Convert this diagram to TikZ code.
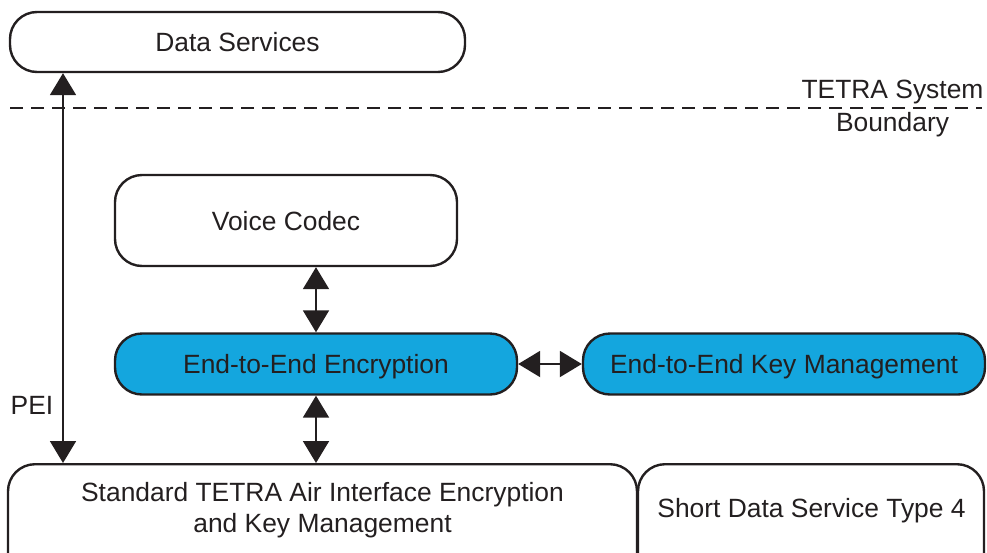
\documentclass[tikz,border=0pt]{standalone}
\usepackage{fontspec}
\setmainfont{Liberation Sans}
\usetikzlibrary{arrows.meta}
\definecolor{ink}{HTML}{231F20}
\definecolor{e2eblue}{RGB}{20,166,222}

\begin{document}
\begin{tikzpicture}[x=1pt, y=-1pt, font=\fontsize{26.4}{33}\selectfont, text=ink,
  box/.style={draw=ink, line width=2.4pt, rounded corners=27pt, fill=white, text height=19pt, text depth=0pt},
  e2ebox/.style={box, fill=e2eblue, minimum width=402pt, minimum height=61pt},
  dbl/.style={{Triangle[length=22pt,width=26pt]}-{Triangle[length=22pt,width=26pt]}, line width=2pt, draw=ink}]
\useasboundingbox (0,0) rectangle (987,552);
\clip (0,0) rectangle (987,552);
\node[box, minimum width=455pt, minimum height=60pt] (ds) at (237.5,42) {Data Services};
\node[box, minimum width=342pt, minimum height=91pt] (vc) at (286,220.5) {Voice Codec};
\node[e2ebox] (e2e) at (316,364) {End-to-End Encryption};
\node[e2ebox] (kms) at (784,364) {End-to-End Key Management};
\node[box, minimum width=629pt, minimum height=150pt, anchor=north] (air) at (322.5,463) {};
\node[box, minimum width=346pt, minimum height=150pt, anchor=north] (sds) at (811,463) {};
\node[align=center, font=\fontsize{26.4}{31}\selectfont] (airtext) at (322.5,510) {Standard TETRA Air Interface Encryption\\and Key Management};
\node[text height=19pt, text depth=0pt] (sdstext) at (811.5,507.5) {Short Data Service Type 4};
\node[align=center] (bound) at (892.5,108.5) {TETRA System\\Boundary};
\node (pei) at (32,405.5) {PEI};
\coordinate (peiline) at (63,0);
\draw[ink, line width=2.5pt, dash pattern=on 13pt off 8pt] (10,108) -- (982,108);
\draw[dbl] (peiline |- ds.south) -- (peiline |- air.north);
\draw[dbl] (e2e.north |- vc.south) -- (e2e.north);
\draw[dbl] (e2e.south) -- (e2e.south |- air.north);
\draw[dbl] (e2e.east) -- (kms.west);
\end{tikzpicture}
\end{document}
